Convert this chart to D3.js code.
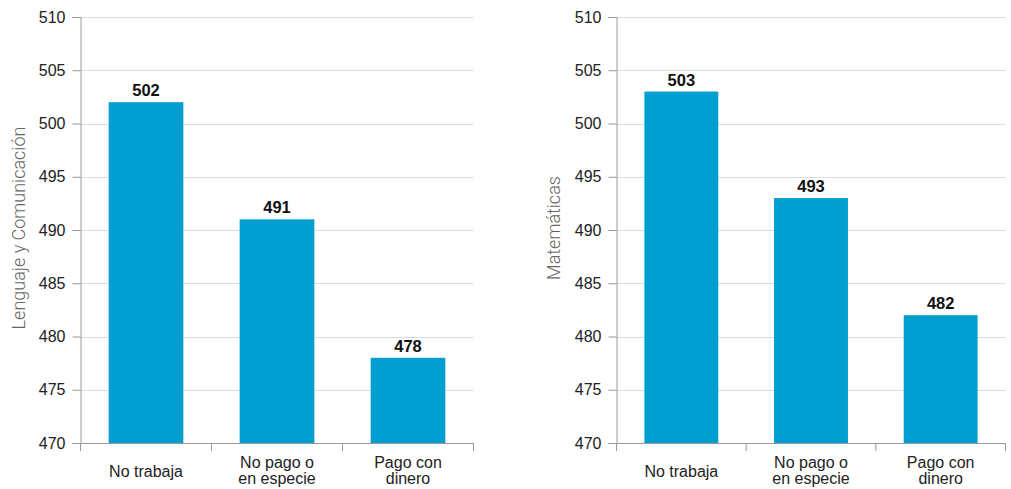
<!DOCTYPE html>
<html>
<head>
<meta charset="utf-8">
<script src="https://cdn.jsdelivr.net/npm/d3@7/dist/d3.min.js"></script>
<style>
  html, body { margin: 0; padding: 0; background: #fff; }
  svg { display: block; }
  .tick text { font-family: "Liberation Sans", Arial, sans-serif; }
</style>
</head>
<body>
<svg id="chart" width="1011" height="489"></svg>
<script>
// Categories (multi-line labels split on "\n")
const categories = ["No trabaja", "No pago o\nen especie", "Pago con\ndinero"];
// Average scores per subject
const lenguajeValues = [502, 491, 478];
const matematicasValues = [503, 493, 482];
// Y axis ticks
const yTicks = [470, 475, 480, 485, 490, 495, 500, 505, 510];
const panelTitles = ["Lenguaje y Comunicación", "Matemáticas"];

const svg = d3.select("#chart");
const barColor = "#009fcf";
const textFont = "Liberation Sans, Arial, sans-serif";

const panels = [
  { title: panelTitles[0], values: lenguajeValues, left: 80.5, right: 473.5, titleX: 25 },
  { title: panelTitles[1], values: matematicasValues, left: 616.5, right: 1005.5, titleX: 560 }
];

const plotTop = 17, plotBottom = 443;

panels.forEach(p => {
  const g = svg.append("g");
  const y = d3.scaleLinear().domain([470, 510]).range([plotBottom, plotTop]);
  const x = d3.scaleBand().domain(categories).range([p.left, p.right]).paddingInner(0.43).paddingOuter(0.215);

  // Gridlines
  g.append("g").selectAll("line").data(yTicks.slice(1)).join("line")
    .attr("x1", p.left).attr("x2", p.right)
    .attr("y1", d => Math.round(y(d)) + 0.5).attr("y2", d => Math.round(y(d)) + 0.5)
    .attr("stroke", "#dcdcdc").attr("stroke-width", 1);

  // Bars
  g.append("g").selectAll("rect").data(p.values).join("rect")
    .attr("x", (d, i) => x(categories[i]))
    .attr("width", x.bandwidth())
    .attr("y", d => y(d))
    .attr("height", d => y(470) - y(d))
    .attr("fill", barColor);

  // Value labels
  g.append("g").selectAll("text").data(p.values).join("text")
    .attr("x", (d, i) => x(categories[i]) + x.bandwidth() / 2)
    .attr("y", d => y(d) - 6)
    .attr("text-anchor", "middle")
    .attr("font-family", textFont)
    .attr("font-weight", "bold")
    .attr("font-size", 16.5)
    .attr("fill", "#111")
    .text(d => d);

  // Y axis
  const yAxis = d3.axisLeft(y).tickValues(yTicks).tickSize(8).tickPadding(7);
  const ya = g.append("g").attr("transform", `translate(${p.left},0)`).call(yAxis);
  ya.select(".domain").attr("stroke", "#999");
  ya.selectAll(".tick line").attr("stroke", "#999");
  ya.selectAll(".tick text").attr("font-size", 16).attr("fill", "#222");

  // X axis with ticks at band boundaries
  const xa = g.append("g");
  xa.append("line").attr("x1", p.left).attr("x2", p.right)
    .attr("y1", plotBottom + 0.5).attr("y2", plotBottom + 0.5).attr("stroke", "#999");
  const step = x.step();
  const boundaries = [p.left, ...categories.map(c => x(c) + x.bandwidth() + (step - x.bandwidth()) / 2)];
  boundaries[boundaries.length - 1] = p.right;
  xa.selectAll("line.tk").data(boundaries).join("line").attr("class", "tk")
    .attr("x1", d => d).attr("x2", d => d)
    .attr("y1", plotBottom).attr("y2", plotBottom + 8).attr("stroke", "#999");

  // Category labels, one text element per line
  categories.forEach(c => {
    const lines = c.split("\n");
    const y0 = lines.length === 1 ? 477 : 468;
    lines.forEach((l, i) => {
      xa.append("text")
        .attr("x", x(c) + x.bandwidth() / 2)
        .attr("y", y0 + i * 16)
        .attr("text-anchor", "middle")
        .attr("font-family", textFont)
        .attr("font-size", 16)
        .attr("fill", "#222")
        .text(l);
    });
  });

  // Y axis title
  g.append("text")
    .attr("transform", `translate(${p.titleX},228) rotate(-90)`)
    .attr("text-anchor", "middle")
    .attr("font-family", "Roboto, sans-serif")
    .attr("font-weight", 300)
    .attr("font-size", 18)
    .attr("fill", "#666")
    .text(p.title);
});
</script>
</body>
</html>
